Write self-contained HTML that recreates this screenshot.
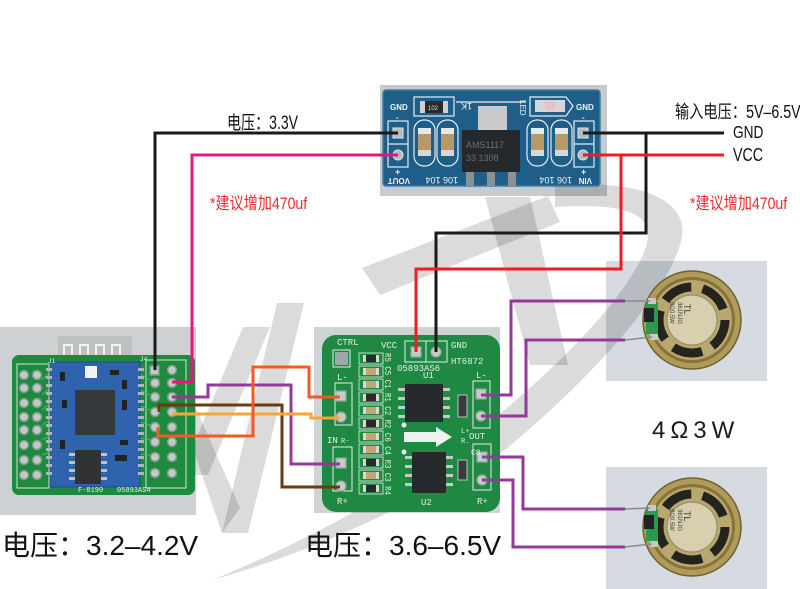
<!DOCTYPE html>
<html><head><meta charset="utf-8"><style>
html,body{margin:0;padding:0;background:#fff;}
svg{display:block;}
text{font-family:"Liberation Sans","Noto Sans CJK SC",sans-serif;}
.mono{font-family:"Liberation Mono","DejaVu Sans Mono",monospace;}
</style></head><body>
<svg width="800" height="589" viewBox="0 0 800 589" xmlns="http://www.w3.org/2000/svg">
<rect width="800" height="589" fill="#fff"/>

<!-- photo backgrounds -->
<rect x="380" y="85" width="227" height="111" fill="#c7cbce"/>
<rect x="0" y="327" width="196" height="188" fill="#cdd1d4"/>
<rect x="314" y="327" width="186" height="186" fill="#d0d3d5"/>
<rect x="606" y="261" width="161" height="120" fill="#d5dbe1"/>
<rect x="606" y="467" width="161" height="122" fill="#d5dbe1"/>

<!-- watermark -->
<g fill="#000" fill-opacity="0.14">
<path d="M243,327 L270,327 L208,475 L181,475 Z"/>
<path d="M277,303 L304,303 L248,533 L222,533 Z"/>
<path d="M190,395 L190,440 L222,533 L240,508 Z"/>
<path d="M362,268 L548,196 L560,222 L380,295 Z"/>
<path d="M485,197 L530,197 L568,365 L530,365 Z"/>
<path d="M555,186 C640,178 695,200 680,245 C665,295 595,375 505,450 C420,500 320,550 212,580 C310,540 400,490 480,430 C555,370 625,300 645,250 C658,212 625,203 555,207 Z"/>
</g>

<!-- AMS1117 board -->
<rect x="383" y="90" width="217" height="96" rx="3" fill="#1f5e88" stroke="#3d7eaa" stroke-width="1.5"/>
<g fill="none" stroke="#e6eef2" stroke-width="1.2">
<rect x="388" y="121" width="20" height="46"/>
<line x1="388" y1="144" x2="408" y2="144"/>
<rect x="414" y="120" width="21" height="46" rx="10"/>
<rect x="437" y="120" width="21" height="46" rx="10"/>
<rect x="527" y="120" width="21" height="46" rx="10"/>
<rect x="551" y="120" width="21" height="46" rx="10"/>
<rect x="574" y="121" width="20" height="46"/>
<line x1="574" y1="144" x2="594" y2="144"/>
<rect x="414" y="97" width="40" height="19"/>
<path d="M530,97 H566 L573,106 L566,116 H530 Z"/>
<line x1="456" y1="102" x2="526" y2="102"/>
</g>
<rect x="393" y="128" width="10" height="10" fill="#b5babd" stroke="#e0e6e8"/>
<circle cx="398" cy="155" r="5" fill="#b5babd" stroke="#e0e6e8"/>
<rect x="578" y="128" width="10" height="10" fill="#b5babd" stroke="#e0e6e8"/>
<circle cx="583" cy="155" r="5" fill="#b5babd" stroke="#e0e6e8"/>
<g>
<rect x="418" y="128" width="13" height="28" fill="#b89a6a"/><rect x="418" y="128" width="13" height="6" fill="#e8e8e8"/><rect x="418" y="150" width="13" height="6" fill="#d8d8d8"/>
<rect x="441" y="128" width="13" height="28" fill="#b89a6a"/><rect x="441" y="128" width="13" height="6" fill="#e8e8e8"/><rect x="441" y="150" width="13" height="6" fill="#d8d8d8"/>
<rect x="531" y="128" width="13" height="28" fill="#b89a6a"/><rect x="531" y="128" width="13" height="6" fill="#e8e8e8"/><rect x="531" y="150" width="13" height="6" fill="#d8d8d8"/>
<rect x="555" y="128" width="13" height="28" fill="#b89a6a"/><rect x="555" y="128" width="13" height="6" fill="#e8e8e8"/><rect x="555" y="150" width="13" height="6" fill="#d8d8d8"/>
</g>
<rect x="478" y="106" width="29" height="25" fill="#c9c9c9"/>
<rect x="462" y="130" width="58" height="42" fill="#26292b"/>
<rect x="466" y="172" width="8" height="14" fill="#8c9090"/>
<rect x="487" y="172" width="8" height="14" fill="#8c9090"/>
<rect x="508" y="172" width="8" height="14" fill="#8c9090"/>
<text x="466" y="148" font-size="9" fill="#6a6e70">AMS1117</text>
<text x="466" y="161" font-size="9" fill="#6a6e70">33 1308</text>
<rect x="420" y="101" width="28" height="12" fill="#2a2a2a"/>
<rect x="420" y="101" width="5" height="12" fill="#cfcfcf"/><rect x="443" y="101" width="5" height="12" fill="#cfcfcf"/>
<text x="428" y="110" font-size="6" fill="#ddd">102</text>
<rect x="535" y="100" width="30" height="12" fill="#d6d6d6"/><rect x="545" y="102" width="10" height="8" fill="#e8c0c8"/>
<g fill="#eef3f5" font-weight="bold">
<text x="390" y="110" font-size="8">GND</text>
<text x="576" y="110" font-size="8">GND</text>
<text x="396" y="120" font-size="8">-</text>
<text x="582" y="120" font-size="8">-</text>
<text x="395" y="175" font-size="9">+</text>
<text x="581" y="175" font-size="9">+</text>
<text transform="translate(410,178) rotate(180)" font-size="8">VOUT</text>
<text transform="translate(592,178) rotate(180)" font-size="8">VIN</text>
<text transform="translate(458,177) rotate(180)" font-size="9" font-weight="normal">106 104</text>
<text transform="translate(572,177) rotate(180)" font-size="9" font-weight="normal">106 104</text>
<text transform="translate(472,103) rotate(180)" font-size="9" font-weight="normal">1K</text>
<text transform="translate(520,100) rotate(90)" font-size="8" font-weight="normal">LED</text>
</g>

<!-- BT board -->
<rect x="58" y="336" width="74" height="30" fill="#bcc3bf"/>
<path d="M64,362 V345 H72 V358 H80 V345 H88 V358 H96 V345 H104 V358 H112 V345 H120 V355" fill="none" stroke="#f2f2f2" stroke-width="2"/>
<rect x="12" y="355" width="183" height="140" rx="7" fill="#1e8a3e"/>
<rect x="17" y="364" width="32" height="124" fill="none" stroke="#cfe8d6" stroke-width="1"/>
<rect x="146" y="360" width="40" height="128" fill="none" stroke="#cfe8d6" stroke-width="1"/>
<g stroke="#4fb86a" stroke-width="1">
<line x1="42" y1="380" x2="50" y2="372"/><line x1="42" y1="395" x2="50" y2="388"/><line x1="42" y1="410" x2="50" y2="404"/><line x1="42" y1="425" x2="50" y2="420"/><line x1="42" y1="440" x2="50" y2="436"/><line x1="42" y1="455" x2="50" y2="452"/>
<line x1="140" y1="374" x2="150" y2="380"/><line x1="140" y1="390" x2="150" y2="395"/><line x1="140" y1="406" x2="150" y2="410"/><line x1="140" y1="422" x2="150" y2="425"/><line x1="140" y1="438" x2="150" y2="440"/><line x1="140" y1="454" x2="150" y2="455"/>
</g>
<rect x="50" y="362" width="90" height="125" fill="#2f63ae" stroke="#1f4a88" stroke-width="1"/>
<g fill="#aeb4b8">
<rect x="46" y="368" width="6" height="3"/><rect x="46" y="376" width="6" height="3"/><rect x="46" y="384" width="6" height="3"/><rect x="46" y="392" width="6" height="3"/><rect x="46" y="400" width="6" height="3"/><rect x="46" y="408" width="6" height="3"/><rect x="46" y="416" width="6" height="3"/><rect x="46" y="424" width="6" height="3"/><rect x="46" y="432" width="6" height="3"/><rect x="46" y="440" width="6" height="3"/><rect x="46" y="448" width="6" height="3"/><rect x="46" y="456" width="6" height="3"/><rect x="46" y="464" width="6" height="3"/><rect x="46" y="472" width="6" height="3"/>
<rect x="138" y="368" width="6" height="3"/><rect x="138" y="376" width="6" height="3"/><rect x="138" y="384" width="6" height="3"/><rect x="138" y="392" width="6" height="3"/><rect x="138" y="400" width="6" height="3"/><rect x="138" y="408" width="6" height="3"/><rect x="138" y="416" width="6" height="3"/><rect x="138" y="424" width="6" height="3"/><rect x="138" y="432" width="6" height="3"/><rect x="138" y="440" width="6" height="3"/><rect x="138" y="448" width="6" height="3"/><rect x="138" y="456" width="6" height="3"/><rect x="138" y="464" width="6" height="3"/><rect x="138" y="472" width="6" height="3"/>
</g>
<rect x="85" y="366" width="12" height="12" fill="#f2f2f2"/>
<rect x="75" y="390" width="40" height="45" fill="#35393c"/>
<rect x="75" y="450" width="26" height="34" fill="#303234"/>
<g fill="#bfc3c5"><rect x="101" y="453" width="6" height="3"/><rect x="101" y="461" width="6" height="3"/><rect x="101" y="469" width="6" height="3"/><rect x="101" y="477" width="6" height="3"/><rect x="69" y="453" width="6" height="3"/><rect x="69" y="461" width="6" height="3"/><rect x="69" y="469" width="6" height="3"/><rect x="69" y="477" width="6" height="3"/></g>
<g fill="#222"><rect x="60" y="372" width="5" height="9"/><rect x="110" y="370" width="9" height="5"/><rect x="122" y="380" width="5" height="9"/><rect x="60" y="440" width="5" height="9"/><rect x="120" y="440" width="8" height="5"/><rect x="115" y="455" width="12" height="6"/><rect x="62" y="400" width="5" height="8"/><rect x="122" y="400" width="5" height="10"/></g>
<g fill="#c3c8c8" stroke="#7d9a86" stroke-width="1.5">
<circle cx="24" cy="375" r="4.5"/><circle cx="37" cy="375" r="4.5"/>
<circle cx="24" cy="388" r="4.5"/><circle cx="37" cy="388" r="4.5"/>
<circle cx="24" cy="403" r="4.5"/><circle cx="37" cy="403" r="4.5"/>
<circle cx="24" cy="417" r="4.5"/><circle cx="37" cy="417" r="4.5"/>
<circle cx="24" cy="430" r="4.5"/><circle cx="37" cy="430" r="4.5"/>
<circle cx="24" cy="445" r="4.5"/><circle cx="37" cy="445" r="4.5"/>
<circle cx="24" cy="460" r="4.5"/><circle cx="37" cy="460" r="4.5"/>
<circle cx="24" cy="475" r="4.5"/><circle cx="37" cy="475" r="4.5"/>
<rect x="150" y="366" width="9" height="9"/><circle cx="172" cy="370" r="4.5"/>
<circle cx="155" cy="383" r="4.5"/><circle cx="172" cy="383" r="4.5"/>
<circle cx="155" cy="397" r="4.5"/><circle cx="172" cy="397" r="4.5"/>
<circle cx="155" cy="412" r="4.5"/><circle cx="172" cy="412" r="4.5"/>
<circle cx="155" cy="427" r="4.5"/><circle cx="172" cy="427" r="4.5"/>
<circle cx="155" cy="442" r="4.5"/><circle cx="172" cy="442" r="4.5"/>
<circle cx="155" cy="457" r="4.5"/><circle cx="172" cy="457" r="4.5"/>
<circle cx="155" cy="473" r="4.5"/><circle cx="172" cy="473" r="4.5"/>
</g>
<text class="mono" x="78" y="492" font-size="7" fill="#e8f2ea">F-8190</text>
<text class="mono" x="117" y="492" font-size="7" fill="#e8f2ea">05893AS4</text>
<text class="mono" x="48" y="363" font-size="6" fill="#e8f2ea">J1</text>
<text class="mono" x="140" y="361" font-size="6" fill="#e8f2ea">J4</text>

<!-- Amp board -->
<rect x="322" y="335" width="178" height="177" rx="14" fill="#1f8843"/>
<g fill="none" stroke="#e4efe6" stroke-width="1">
<rect x="333" y="350" width="17" height="17"/>
<rect x="405" y="341" width="42" height="21"/>
<line x1="426" y1="341" x2="426" y2="362"/>
<rect x="335" y="383" width="17" height="42"/>
<rect x="333" y="447" width="19" height="44"/>
<rect x="473" y="381" width="17" height="47"/>
<rect x="473" y="444" width="18" height="46"/>
</g>
<rect x="335" y="352" width="13" height="13" fill="#9ea6a8"/>
<g fill="#c5caca" stroke="#8fa898" stroke-width="1.2">
<rect x="411" y="347" width="10" height="10"/><circle cx="436" cy="352" r="5"/>
<rect x="336" y="391" width="10" height="10"/><circle cx="341" cy="417" r="5"/>
<rect x="336" y="458" width="10" height="10"/><circle cx="341" cy="486" r="5"/>
<rect x="476" y="389" width="10" height="10"/><circle cx="481" cy="416" r="5"/>
<rect x="477" y="452" width="10" height="10"/><circle cx="482" cy="480" r="5"/>
</g>
<g fill="none" stroke="#e4efe6" stroke-width="0.8">
<rect x="359" y="353" width="24" height="11"/><rect x="359" y="366" width="24" height="11"/><rect x="359" y="379" width="24" height="11"/><rect x="359" y="392" width="24" height="11"/><rect x="359" y="405" width="24" height="11"/><rect x="359" y="418" width="24" height="11"/><rect x="359" y="431" width="24" height="11"/><rect x="359" y="444" width="24" height="11"/><rect x="359" y="457" width="24" height="11"/><rect x="359" y="470" width="24" height="11"/><rect x="359" y="483" width="24" height="11"/>
</g>
<g>
<rect x="363" y="355" width="16" height="7" fill="#2a2a2a"/>
<rect x="363" y="368" width="16" height="7" fill="#c2a774"/>
<rect x="363" y="381" width="16" height="7" fill="#c2a774"/>
<rect x="363" y="394" width="16" height="7" fill="#2a2a2a"/>
<rect x="363" y="407" width="16" height="7" fill="#c2a774"/>
<rect x="363" y="420" width="16" height="7" fill="#2a2a2a"/>
<rect x="363" y="433" width="16" height="7" fill="#c2a774"/>
<rect x="363" y="446" width="16" height="7" fill="#c2a774"/>
<rect x="363" y="459" width="16" height="7" fill="#2a2a2a"/>
<rect x="363" y="472" width="16" height="7" fill="#c2a774"/>
<rect x="363" y="485" width="16" height="7" fill="#2a2a2a"/>
</g>
<g fill="#d8d8d8">
<rect x="363" y="355" width="3" height="7"/><rect x="376" y="355" width="3" height="7"/>
<rect x="363" y="368" width="3" height="7"/><rect x="376" y="368" width="3" height="7"/>
<rect x="363" y="381" width="3" height="7"/><rect x="376" y="381" width="3" height="7"/>
<rect x="363" y="394" width="3" height="7"/><rect x="376" y="394" width="3" height="7"/>
<rect x="363" y="407" width="3" height="7"/><rect x="376" y="407" width="3" height="7"/>
<rect x="363" y="420" width="3" height="7"/><rect x="376" y="420" width="3" height="7"/>
<rect x="363" y="433" width="3" height="7"/><rect x="376" y="433" width="3" height="7"/>
<rect x="363" y="446" width="3" height="7"/><rect x="376" y="446" width="3" height="7"/>
<rect x="363" y="459" width="3" height="7"/><rect x="376" y="459" width="3" height="7"/>
<rect x="363" y="472" width="3" height="7"/><rect x="376" y="472" width="3" height="7"/>
<rect x="363" y="485" width="3" height="7"/><rect x="376" y="485" width="3" height="7"/>
</g>
<text class="mono" transform="translate(385,353) rotate(90)" font-size="9" fill="#e4efe6" textLength="142" lengthAdjust="spacingAndGlyphs">R5 C5 C1 R1 C2 R2 C6 C4 R3 C3 R4</text>
<g fill="#c5c9c9">
<rect x="398" y="388" width="8" height="3"/><rect x="398" y="397" width="8" height="3"/><rect x="398" y="406" width="8" height="3"/><rect x="398" y="415" width="8" height="3"/>
<rect x="442" y="388" width="8" height="3"/><rect x="442" y="397" width="8" height="3"/><rect x="442" y="406" width="8" height="3"/><rect x="442" y="415" width="8" height="3"/>
<rect x="405" y="456" width="8" height="3"/><rect x="405" y="465" width="8" height="3"/><rect x="405" y="474" width="8" height="3"/><rect x="405" y="483" width="8" height="3"/>
<rect x="445" y="456" width="8" height="3"/><rect x="445" y="465" width="8" height="3"/><rect x="445" y="474" width="8" height="3"/><rect x="445" y="483" width="8" height="3"/>
</g>
<rect x="405" y="384" width="38" height="38" fill="#262a2c"/>
<rect x="412" y="452" width="34" height="41" fill="#262a2c"/>
<rect x="458" y="395" width="9" height="22" fill="#3a3a3a" stroke="#dde" stroke-width="0.8"/>
<rect x="458" y="460" width="9" height="20" fill="#3a3a3a" stroke="#dde" stroke-width="0.8"/>
<path d="M404,432 H436 V427 L452,437 L436,447 V442 H404 Z" fill="#eef3ef"/>
<circle cx="404" cy="425" r="2.5" fill="#eef3ef"/><circle cx="404" cy="452" r="2.5" fill="#eef3ef"/>
<g class="mono" fill="#e4efe6" font-size="9">
<text x="337" y="345" class="mono">CTRL</text>
<text x="381" y="348" class="mono">VCC</text>
<text x="451" y="348" class="mono">GND</text>
<text x="397" y="371" class="mono">05893AS6</text>
<text x="451" y="364" class="mono">HT6872</text>
<text x="423" y="378" class="mono">U1</text>
<text x="421" y="505" class="mono">U2</text>
<text x="337" y="380" class="mono">L-</text>
<text x="476" y="378" class="mono">L-</text>
<text x="327" y="443" class="mono">IN</text>
<text x="341" y="443" class="mono" font-size="7">R-</text>
<text x="469" y="439" class="mono">OUT</text>
<text x="461" y="433" class="mono" font-size="7">L+</text>
<text x="461" y="443" class="mono" font-size="7">R.</text>
<text x="471" y="455" class="mono" font-size="8">C8</text>
<text x="337" y="504" class="mono">R+</text>
<text x="477" y="504" class="mono">R+</text>
</g>

<!-- speakers -->
<g transform="translate(692,320)">
<circle r="49" fill="#b09b58" stroke="#6f602e" stroke-width="1.5"/>
<circle r="43" fill="#85733a"/>
<circle r="40" fill="#b8a76e"/>
<circle r="33" fill="none" stroke="#24241e" stroke-width="9" stroke-dasharray="30 11.5"/>
<circle r="25" fill="#d7cfae" stroke="#9a9070" stroke-width="1.2"/>
<text transform="translate(-8,-16) rotate(90)" font-size="9" fill="#333">TL</text>
<text transform="translate(-14,-18) rotate(90)" font-size="6" fill="#444">361NJG</text>
<text transform="translate(-22,-18) rotate(90)" font-size="6" fill="#444">8Ω0.5W</text>
<rect x="-46" y="-18" width="12" height="32" fill="#2a9a50"/>
<rect x="-48" y="-12" width="10" height="14" fill="#222"/>
<rect x="-44" y="-22" width="8" height="6" fill="#c8c8c8"/>
<rect x="-42" y="14" width="8" height="6" fill="#c8c8c8"/>
<line x1="-67" y1="-19" x2="-42" y2="-19" stroke="#8a8a8a" stroke-width="1.5"/>
<line x1="-67" y1="20" x2="-40" y2="17" stroke="#8a8a8a" stroke-width="1.5"/>
</g>
<g transform="translate(692,527)">
<circle r="49" fill="#b09b58" stroke="#6f602e" stroke-width="1.5"/>
<circle r="43" fill="#85733a"/>
<circle r="40" fill="#b8a76e"/>
<circle r="33" fill="none" stroke="#24241e" stroke-width="9" stroke-dasharray="30 11.5"/>
<circle r="25" fill="#d7cfae" stroke="#9a9070" stroke-width="1.2"/>
<text transform="translate(-8,-16) rotate(90)" font-size="9" fill="#333">TL</text>
<text transform="translate(-14,-18) rotate(90)" font-size="6" fill="#444">361NJG</text>
<text transform="translate(-22,-18) rotate(90)" font-size="6" fill="#444">8Ω0.5W</text>
<rect x="-46" y="-18" width="12" height="32" fill="#2a9a50"/>
<rect x="-48" y="-12" width="10" height="14" fill="#222"/>
<rect x="-44" y="-22" width="8" height="6" fill="#c8c8c8"/>
<rect x="-42" y="14" width="8" height="6" fill="#c8c8c8"/>
<line x1="-67" y1="-18" x2="-42" y2="-19" stroke="#8a8a8a" stroke-width="1.5"/>
<line x1="-67" y1="20" x2="-40" y2="17" stroke="#8a8a8a" stroke-width="1.5"/>
</g>

<!-- wires -->
<g fill="none" stroke-width="3" stroke-linejoin="miter">
<path d="M398,133 H155 V370" stroke="#1a1a1a"/>
<path d="M398,155 H192 V382 H172" stroke="#e6157f"/>
<path d="M583,133 H724 M646,132 V233 H436 V352" stroke="#1a1a1a"/>
<path d="M583,155 H724 M621,155 V269 H416 V352" stroke="#ee1c24"/>
<path d="M172,397 H208 V385 H291 V464 H340" stroke="#93399a"/>
<path d="M159,412 V405 H282 V487 H340" stroke="#6a3a12"/>
<path d="M172,414 H311 V418 H340" stroke="#f7a535"/>
<path d="M158,427 V436 H253 V367 H309 V397 H340" stroke="#f15a24"/>
<path d="M481,395 H511 V301 H625" stroke="#93399a"/>
<path d="M481,416 H526 V340 H625" stroke="#93399a"/>
<path d="M482,457 H523 V509 H625" stroke="#93399a"/>
<path d="M482,480 H513 V547 H625" stroke="#93399a"/>
</g>

<!-- labels -->
<text transform="translate(227,129) scale(0.74,1)" font-size="19" fill="#111">电压：3.3V</text>
<text transform="translate(675,118) scale(0.79,1)" font-size="18" fill="#111">输入电压：5V–6.5V</text>
<text transform="translate(733,138) scale(0.76,1)" font-size="18" fill="#111">GND</text>
<text transform="translate(733,161) scale(0.79,1)" font-size="18" fill="#111">VCC</text>
<text transform="translate(210,209) scale(0.83,1)" font-size="17" fill="#ee2a2a">*建议增加470uf</text>
<text transform="translate(690,209) scale(0.83,1)" font-size="17" fill="#ee2a2a">*建议增加470uf</text>
<text x="652" y="438" font-size="24" letter-spacing="5" fill="#1a1a1a">4Ω3W</text>
<text x="2" y="555" font-size="28" fill="#111">电压：3.2–4.2V</text>
<text x="305" y="555" font-size="28" fill="#111">电压：3.6–6.5V</text>
</svg>
</body></html>
